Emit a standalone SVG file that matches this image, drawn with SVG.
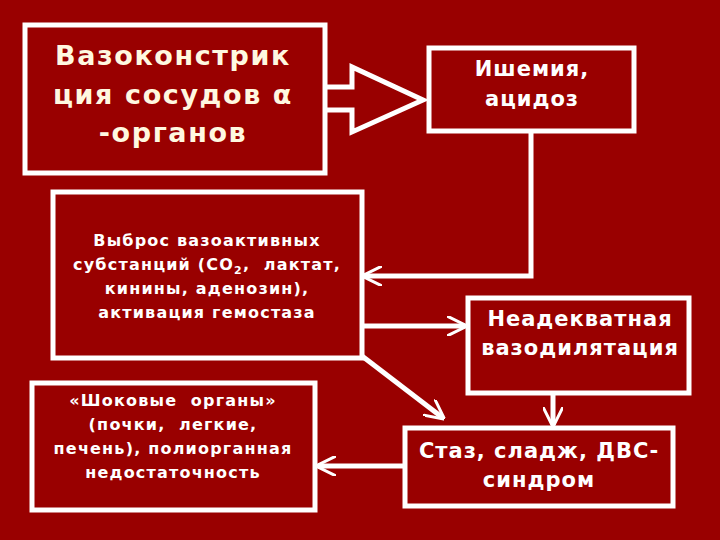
<svg xmlns="http://www.w3.org/2000/svg" width="720" height="540" viewBox="0 0 720 540">
<style>
.b{fill:none;stroke:#fff;stroke-width:5}
.c{fill:none;stroke:#fff;stroke-width:5}
text{font-family:"DejaVu Sans",Verdana,sans-serif;font-weight:bold;fill:#fff;text-anchor:middle;white-space:pre}
.l{font-size:27px;fill:#fff8e0;letter-spacing:1.6px}.m{font-size:21px;letter-spacing:1px}.s{font-size:16px;letter-spacing:1.2px}
</style>
<defs><marker id="a" viewBox="0 0 10 10" refX="9" refY="5" markerWidth="4" markerHeight="4" orient="auto" markerUnits="strokeWidth"><path d="M0,0 L10,5 L0,10" fill="none" stroke="#fff" stroke-width="1.5"/></marker></defs>
<rect width="720" height="540" fill="#990000"/>
<g id="n1"><rect class="b" x="25" y="25" width="300" height="148"/>
<text class="l" x="173" y="65">Вазоконстрик</text><text class="l" x="173" y="104">ция сосудов α</text><text class="l" x="173" y="142">-органов</text></g>
<g id="n2"><rect class="b" x="429" y="48" width="205" height="83"/>
<text class="m" x="532" y="76" font-size="24" letter-spacing="1.8">Ишемия,</text><text class="m" x="532" y="106" font-size="24" letter-spacing="1.8">ацидоз</text></g>
<g id="n3"><rect class="b" x="53" y="192" width="309" height="166"/>
<text class="s" x="207" y="246">Выброс вазоактивных</text><text class="s" x="207" y="270">субстанций (СО<tspan font-size="11" dy="4">2</tspan><tspan dy="-4">,  лактат,</tspan></text><text class="s" x="207" y="294">кинины, аденозин),</text><text class="s" x="207" y="318">активация гемостаза</text></g>
<g id="n4"><rect class="b" x="468" y="298" width="221" height="95"/>
<text class="m" x="580" y="326" font-size="19" letter-spacing="1.8">Неадекватная</text><text class="m" x="580" y="355" font-size="19" letter-spacing="1.8">вазодилятация</text></g>
<g id="n5"><rect class="b" x="32" y="383" width="283" height="127"/>
<text class="s" x="173" y="406">«Шоковые  органы»</text><text class="s" x="173" y="430">(почки,  легкие,</text><text class="s" x="173" y="454">печень), полиорганная</text><text class="s" x="173" y="478">недостаточность</text></g>
<g id="n6"><rect class="b" x="405" y="428" width="268" height="78"/>
<text class="m" x="539" y="458">Стаз, сладж, ДВС-</text><text class="m" x="539" y="487">синдром</text></g>
<g id="connectors">
<path class="c" d="M325,87 H352 V67 L423,100 L352,132 V110 H325"/>
<path class="c" d="M531,131 V276 H364" marker-end="url(#a)"/>
<path class="c" d="M362,326 H465" marker-end="url(#a)"/>
<path class="c" d="M362,356 L443,418" marker-end="url(#a)"/>
<path class="c" d="M553,393 V425" marker-end="url(#a)"/>
<path class="c" d="M405,466 H318" marker-end="url(#a)"/>
</g>
</svg>
